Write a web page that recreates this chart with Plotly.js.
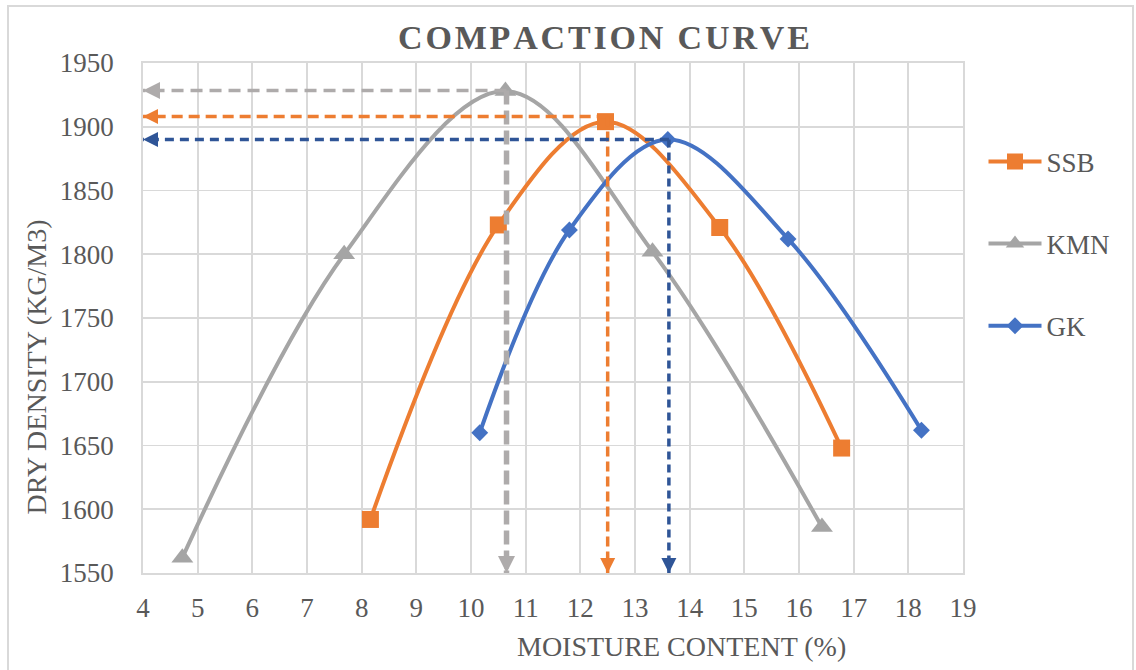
<!DOCTYPE html>
<html>
<head>
<meta charset="utf-8">
<script src="https://cdn.plot.ly/plotly-3.0.1.min.js"></script>
<style>
  html, body { margin: 0; padding: 0; background: #fff; }
  #chart { width: 1136px; height: 670px; }
</style>
</head>
<body>
<div id="chart"></div>
<script>
// Moisture content (%) and dry density (kg/m3) for each soil sample
const ssbMoisture = [8.16, 10.5, 12.46, 14.55, 16.78];
const ssbDensity  = [1592, 1823, 1904, 1821, 1648];
const kmnMoisture = [4.72, 7.68, 10.63, 13.32, 16.42];
const kmnDensity  = [1562, 1800, 1928, 1802, 1586];
const gkMoisture  = [10.16, 11.8, 13.6, 15.8, 18.24];
const gkDensity   = [1660, 1819, 1890, 1812, 1662];

// Optimum moisture content and maximum dry density read-off lines
const sampleNames   = ['KMN', 'SSB', 'GK'];
const optMoisture   = [10.65, 12.5, 13.62];
const maxDensity    = [1928.5, 1908, 1890];

const xTickVals = [4, 5, 6, 7, 8, 9, 10, 11, 12, 13, 14, 15, 16, 17, 18, 19];
const yTickVals = [1550, 1600, 1650, 1700, 1750, 1800, 1850, 1900, 1950];

const FONT = '"Liberation Serif", "Times New Roman", serif';
const TEXT = '#595959';
const GRID = '#D9D9D9';

const curve = (name, x, y, color, symbol, size) => ({
  type: 'scatter', mode: 'lines+markers', name, x, y,
  legendgroup: name,
  line: { color, width: 4, shape: 'spline', smoothing: 1 },
  marker: { color, symbol, size, line: { width: 0 } },
  cliponaxis: false
});

const traces = [
  curve('SSB', ssbMoisture, ssbDensity, '#ED7D31', 'square', 17),
  curve('KMN', kmnMoisture, kmnDensity, '#A5A5A5', 'triangle-up', 19),
  curve('GK',  gkMoisture,  gkDensity,  '#4472C4', 'diamond', 13)
];

// Styles of the dashed read-off guides
const guideStyle = {
  KMN: { color: '#AEABAB', h: { width: 3.5, dash: '12px,7px' }, v: { width: 5.5, dash: '14px,6px' }, head: 3.4, vhead: 5 },
  SSB: { color: '#ED7D31', h: { width: 3.5, dash: '11px,6px' }, v: { width: 3.5, dash: '10px,5px' }, head: 3, vhead: 3 },
  GK:  { color: '#2F5597', h: { width: 3.5, dash: '9px,6px' },  v: { width: 3.5, dash: '8px,5px' },  head: 3, vhead: 3 }
};

const xMin = xTickVals[0];
const yMin = yTickVals[0];
const annotations = [];

sampleNames.forEach((name, i) => {
  const st = guideStyle[name];
  // horizontal guide back to the density axis
  traces.push({
    type: 'scatter', mode: 'lines', showlegend: false, hoverinfo: 'skip',
    x: [optMoisture[i], xMin], y: [maxDensity[i], maxDensity[i]],
    line: { color: st.color, width: st.h.width, dash: st.h.dash },
    cliponaxis: false
  });
  // vertical guide down to the moisture axis
  traces.push({
    type: 'scatter', mode: 'lines', showlegend: false, hoverinfo: 'skip',
    x: [optMoisture[i], optMoisture[i]], y: [maxDensity[i], yMin],
    line: { color: st.color, width: st.v.width, dash: st.v.dash },
    cliponaxis: false
  });
  // arrow heads
  annotations.push({
    x: xMin, y: maxDensity[i], xref: 'x', yref: 'y', text: '',
    showarrow: true, ax: 16, ay: 0, arrowhead: 2, arrowsize: 1,
    arrowwidth: st.head, arrowcolor: st.color, standoff: 0
  });
  annotations.push({
    x: optMoisture[i], y: yMin, xref: 'x', yref: 'y', text: '',
    showarrow: true, ax: 0, ay: -16, arrowhead: 2, arrowsize: st.vhead > 3 ? 0.68 : 1,
    arrowwidth: st.vhead, arrowcolor: st.color, standoff: 0
  });
});

// Chart and axis titles
const HS = '\u200A';
const spaced = s => s.split('').join(HS);
annotations.push({
  xref: 'paper', yref: 'paper', x: 0.5625, y: 1.0095, xanchor: 'center', yanchor: 'bottom',
  text: '<b>' + spaced('COMPACTION') + HS + ' ' + HS + spaced('CURVE') + '</b>',
  showarrow: false, font: { family: FONT, size: 34, color: TEXT }
});
annotations.push({
  xref: 'paper', yref: 'paper', x: 0.657, y: -0.145, xanchor: 'center', yanchor: 'middle',
  text: 'MOISTURE CONTENT (%)', showarrow: false,
  font: { family: FONT, size: 28, color: TEXT }
});
annotations.push({
  xref: 'paper', yref: 'paper', x: -0.1305, y: 0.405, xanchor: 'center', yanchor: 'middle',
  text: 'DRY DENSITY (KG/M3)', textangle: -90, showarrow: false,
  font: { family: FONT, size: 28, color: TEXT }
});

const layout = {
  width: 1136, height: 670,
  margin: { l: 143, r: 173, t: 63, b: 97 },
  paper_bgcolor: '#ffffff', plot_bgcolor: '#ffffff',
  font: { family: FONT, size: 27, color: TEXT },
  showlegend: true,
  legend: {
    x: 1.025, xanchor: 'left', y: 0.854, yanchor: 'top',
    font: { family: FONT, size: 27, color: TEXT },
    itemwidth: 53, tracegroupgap: 44, bgcolor: 'rgba(0,0,0,0)', borderwidth: 0
  },
  xaxis: {
    range: [4, 19], tickvals: xTickVals, ticks: '', showgrid: true,
    gridcolor: GRID, gridwidth: 1.8, zeroline: false,
    showline: true, linecolor: GRID, linewidth: 1.8, mirror: true,
    tickfont: { family: FONT, size: 27, color: TEXT }, ticklabelstandoff: 10
  },
  yaxis: {
    range: [1550, 1950], tickvals: yTickVals, ticks: '', showgrid: true,
    gridcolor: GRID, gridwidth: 1.8, zeroline: false,
    showline: true, linecolor: GRID, linewidth: 1.8, mirror: true,
    tickfont: { family: FONT, size: 27, color: TEXT }, ticklabelstandoff: 22
  },
  annotations,
  shapes: [{
    type: 'rect', xref: 'paper', yref: 'paper',
    x0: (8 - 143) / 820, x1: (1133 - 143) / 820,
    y0: (573 - 690) / 510, y1: (573 - 6) / 510,
    line: { color: GRID, width: 2 }, fillcolor: 'rgba(0,0,0,0)', layer: 'below'
  }]
};

Plotly.newPlot('chart', traces, layout, { displayModeBar: false, staticPlot: true });
</script>
</body>
</html>
